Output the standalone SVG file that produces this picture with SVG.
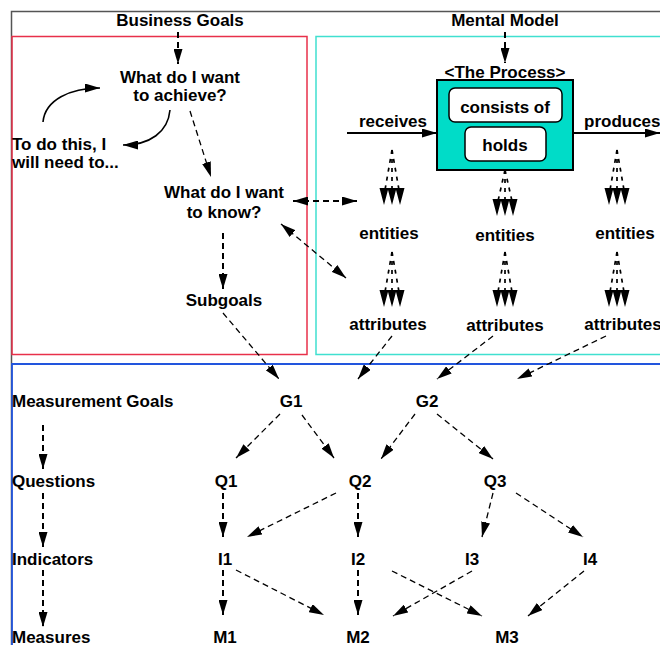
<svg xmlns="http://www.w3.org/2000/svg" width="660" height="645" viewBox="0 0 660 645">
<style>
.t{font-family:"Liberation Sans",Arial,Helvetica,sans-serif;font-weight:bold;font-size:17px;fill:#000}
.m{text-anchor:middle}
.thin{stroke:#000;stroke-width:1.3;stroke-dasharray:6 4;fill:none}
.thick{stroke:#000;stroke-width:2;stroke-dasharray:6 4;fill:none}
.fan{stroke:#000;stroke-width:1.7;stroke-dasharray:4 5;fill:none}
.solid{stroke:#000;stroke-width:1.6;fill:none}
</style>
<defs>
<marker id="ah" viewBox="0 0 15 9" refX="15" refY="4.5" markerWidth="15" markerHeight="9" markerUnits="userSpaceOnUse" orient="auto-start-reverse">
<path d="M0,0 L15,4.5 L0,9 z" fill="#000"/>
</marker>
<g id="fan55">
<line class="fan" x1="0" y1="0" x2="-7" y2="40"/><line class="fan" x1="0" y1="0" x2="0" y2="40"/><line class="fan" x1="0" y1="0" x2="7" y2="40"/>
<path d="M-12.5,38 L-3.5,38 L-8,55 z M-4.5,38 L4.5,38 L0,55 z M3.5,38 L12.5,38 L8,55 z" fill="#000"/>
</g>
<g id="fan46">
<line class="fan" x1="0" y1="0" x2="-7" y2="31"/><line class="fan" x1="0" y1="0" x2="0" y2="31"/><line class="fan" x1="0" y1="0" x2="7" y2="31"/>
<path d="M-12.5,29 L-3.5,29 L-8,46 z M-4.5,29 L4.5,29 L0,46 z M3.5,29 L12.5,29 L8,46 z" fill="#000"/>
</g>
</defs>
<rect width="660" height="645" fill="#fff"/>
<g id="frames">
<path d="M11.5,645 V11.5 H660" fill="none" stroke="#555" stroke-width="1.5"/>
<rect x="12" y="36.5" width="295" height="318" fill="none" stroke="#e8304a" stroke-width="1.5"/>
<path d="M660,36.5 H316 V354.5 H660" fill="none" stroke="#40e0d0" stroke-width="1.5"/>
<path d="M12,645 V364 H660" fill="none" stroke="#2255dd" stroke-width="1.8"/>
</g>
<g id="n-business"><text class="t m" x="180" y="26">Business Goals</text></g>
<g id="n-mental"><text class="t m" x="505" y="26">Mental Model</text></g>
<g id="n-achieve"><text class="t m" x="180" y="83">What do I want</text><text class="t m" x="180" y="101">to achieve?</text></g>
<g id="n-todo"><text class="t" x="12" y="150">To do this, I</text><text class="t" x="12" y="168">will need to...</text></g>
<g id="n-know"><text class="t m" x="224" y="198">What do I want</text><text class="t m" x="224" y="218">to know?</text></g>
<g id="n-subgoals"><text class="t m" x="224" y="306">Subgoals</text></g>
<g id="n-process">
<text class="t m" x="505" y="78">&lt;The Process&gt;</text>
<rect x="437" y="80" width="136" height="90" fill="#00dcc8" stroke="#000" stroke-width="2"/>
<rect x="449" y="88" width="113" height="34" rx="6" fill="#fff" stroke="#000" stroke-width="1.5"/>
<text class="t m" x="505" y="113">consists of</text>
<rect x="465" y="127" width="81" height="34" rx="6" fill="#fff" stroke="#000" stroke-width="1.5"/>
<text class="t m" x="505" y="151">holds</text>
</g>
<g id="n-receives"><text class="t m" x="393" y="127">receives</text></g>
<g id="n-produces"><text class="t" x="584" y="127">produces</text></g>
<g id="n-ent1"><text class="t m" x="389" y="239">entities</text></g>
<g id="n-ent2"><text class="t m" x="505" y="241">entities</text></g>
<g id="n-ent3"><text class="t m" x="625" y="239">entities</text></g>
<g id="n-att1"><text class="t m" x="388" y="330">attributes</text></g>
<g id="n-att2"><text class="t m" x="505" y="331">attributes</text></g>
<g id="n-att3"><text class="t m" x="623" y="330">attributes</text></g>
<g id="n-mg"><text class="t" x="12" y="407">Measurement Goals</text></g>
<g id="n-q"><text class="t" x="12" y="487">Questions</text></g>
<g id="n-i"><text class="t" x="12" y="565">Indicators</text></g>
<g id="n-m"><text class="t" x="12" y="643">Measures</text></g>
<g id="n-G1"><text class="t m" x="291" y="407">G1</text></g>
<g id="n-G2"><text class="t m" x="427" y="407">G2</text></g>
<g id="n-Q1"><text class="t m" x="226" y="487">Q1</text></g>
<g id="n-Q2"><text class="t m" x="360" y="487">Q2</text></g>
<g id="n-Q3"><text class="t m" x="495" y="487">Q3</text></g>
<g id="n-I1"><text class="t m" x="225" y="565">I1</text></g>
<g id="n-I2"><text class="t m" x="358" y="565">I2</text></g>
<g id="n-I3"><text class="t m" x="472" y="565">I3</text></g>
<g id="n-I4"><text class="t m" x="590" y="565">I4</text></g>
<g id="n-M1"><text class="t m" x="225" y="643">M1</text></g>
<g id="n-M2"><text class="t m" x="358" y="643">M2</text></g>
<g id="n-M3"><text class="t m" x="507" y="643">M3</text></g>
<g id="connectors">
<line class="thick" x1="178" y1="32" x2="178" y2="64" marker-end="url(#ah)"/>
<line class="thick" x1="505" y1="32" x2="505" y2="63" marker-end="url(#ah)"/>
<path class="solid" d="M43,122 C45,100 70,88 100,88" marker-end="url(#ah)"/>
<path class="solid" d="M170,110 C168,132 150,145 123,145" marker-end="url(#ah)"/>
<line class="thin" x1="190" y1="111" x2="211" y2="177" marker-end="url(#ah)"/>
<line class="thick" x1="293" y1="201" x2="357" y2="201" marker-start="url(#ah)" marker-end="url(#ah)"/>
<line class="thin" x1="281" y1="224" x2="346" y2="278" marker-start="url(#ah)" marker-end="url(#ah)"/>
<line class="thick" x1="223" y1="233" x2="223" y2="289" marker-end="url(#ah)"/>
<line class="thin" x1="223" y1="313" x2="279" y2="379" marker-end="url(#ah)"/>
<line x1="347" y1="133" x2="437" y2="133" stroke="#000" stroke-width="2" marker-end="url(#ah)"/>
<line x1="573" y1="133" x2="660" y2="133" stroke="#000" stroke-width="2" marker-end="url(#ah)"/>
<use href="#fan55" x="392" y="150"/>
<use href="#fan46" x="505" y="170"/>
<use href="#fan55" x="617" y="150"/>
<use href="#fan55" x="392" y="252"/>
<use href="#fan55" x="505" y="252"/>
<use href="#fan55" x="617" y="252"/>
<line class="thin" x1="392" y1="336" x2="358" y2="379" marker-end="url(#ah)"/>
<line class="thin" x1="493" y1="336" x2="437" y2="379" marker-end="url(#ah)"/>
<line class="thin" x1="606" y1="336" x2="517" y2="379" marker-end="url(#ah)"/>
<line class="thick" x1="43" y1="425" x2="43" y2="469" marker-end="url(#ah)"/>
<line class="thick" x1="43" y1="493" x2="43" y2="547" marker-end="url(#ah)"/>
<line class="thick" x1="43" y1="570" x2="43" y2="627" marker-end="url(#ah)"/>
<line class="thin" x1="280" y1="414" x2="236" y2="458" marker-end="url(#ah)"/>
<line class="thin" x1="302" y1="415" x2="334" y2="458" marker-end="url(#ah)"/>
<line class="thin" x1="415" y1="414" x2="381" y2="459" marker-end="url(#ah)"/>
<line class="thin" x1="437" y1="414" x2="493" y2="459" marker-end="url(#ah)"/>
<line class="thick" x1="223" y1="493" x2="223" y2="537" marker-end="url(#ah)"/>
<line class="thin" x1="336" y1="493" x2="247" y2="537" marker-end="url(#ah)"/>
<line class="thick" x1="358" y1="493" x2="358" y2="537" marker-end="url(#ah)"/>
<line class="thin" x1="493" y1="493" x2="482" y2="537" marker-end="url(#ah)"/>
<line class="thin" x1="516" y1="493" x2="583" y2="537" marker-end="url(#ah)"/>
<line class="thick" x1="223" y1="570" x2="223" y2="615" marker-end="url(#ah)"/>
<line class="thin" x1="236" y1="570" x2="324" y2="615" marker-end="url(#ah)"/>
<line class="thick" x1="358" y1="570" x2="358" y2="615" marker-end="url(#ah)"/>
<line class="thin" x1="392" y1="571" x2="482" y2="616" marker-end="url(#ah)"/>
<line class="thin" x1="472" y1="571" x2="393" y2="616" marker-end="url(#ah)"/>
<line class="thin" x1="584" y1="571" x2="528" y2="616" marker-end="url(#ah)"/>
</g>
</svg>
